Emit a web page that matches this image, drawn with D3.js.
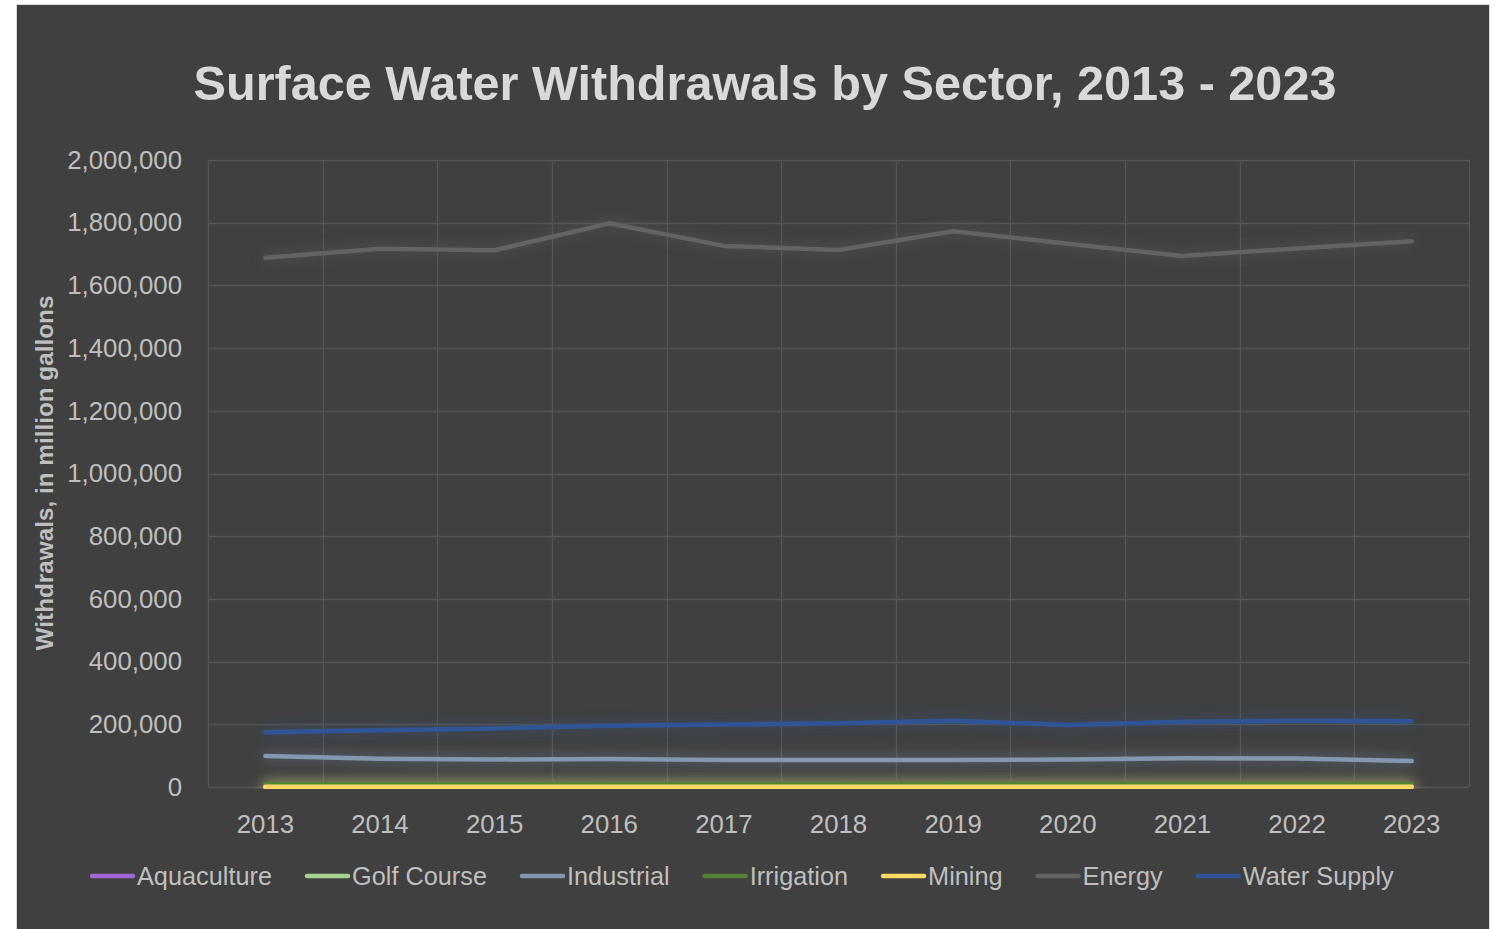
<!DOCTYPE html>
<html>
<head>
<meta charset="utf-8">
<script src="https://cdn.jsdelivr.net/npm/d3@7"></script>
<style>
  html, body { margin: 0; padding: 0; background: #ffffff; }
  svg { display: block; }
</style>
</head>
<body>
<svg id="chart" width="1499" height="929"></svg>
<script>
const years = ["2013","2014","2015","2016","2017","2018","2019","2020","2021","2022","2023"];
const seriesNames = ["Aquaculture","Golf Course","Industrial","Irrigation","Mining","Energy","Water Supply"];
const aquaculture = [300, 300, 300, 300, 300, 300, 300, 300, 300, 300, 300];
const golfCourse  = [1500, 1500, 1500, 1500, 1500, 1500, 1500, 1500, 1500, 1500, 1500];
const industrial  = [99000, 90000, 88000, 89000, 86000, 86000, 86000, 88000, 92000, 91000, 83000];
const irrigation  = [8500, 9000, 9000, 9500, 9500, 9500, 10000, 10000, 10000, 10500, 10500];
const mining      = [500, 500, 500, 500, 500, 500, 500, 500, 500, 500, 500];
const energy      = [1688000, 1717000, 1712000, 1798000, 1726000, 1713000, 1773000, 1733000, 1694000, 1718000, 1741000];
const waterSupply = [175000, 181000, 187000, 195000, 199000, 203000, 211000, 198000, 208000, 211000, 210000];
const yTicks = [0, 200000, 400000, 600000, 800000, 1000000, 1200000, 1400000, 1600000, 1800000, 2000000];
const seriesColors = ["#a266d6", "#a9d18e", "#8497b0", "#548235", "#ffd966", "#636363", "#2f5597"];
const titleText = "Surface Water Withdrawals by Sector, 2013 - 2023";
const yTitleText = "Withdrawals, in million gallons";

const seriesValues = [aquaculture, golfCourse, industrial, irrigation, mining, energy, waterSupply];
const series = seriesNames.map((n, i) => ({ name: n, color: seriesColors[i], values: seriesValues[i] }));

const FONT = "'Liberation Sans', Arial, sans-serif";
const svg = d3.select("#chart");

// chart area
svg.append("rect").attr("x", 16.5).attr("y", 4.5).attr("width", 1473).attr("height", 930)
  .attr("fill", "#404040").attr("stroke", "#d9d9d9").attr("stroke-width", 1);

const plot = { left: 208, right: 1469, top: 160, bottom: 787 };
const x = d3.scaleBand().domain(years).range([plot.left, plot.right]).padding(0);
const y = d3.scaleLinear().domain([0, 2000000]).range([plot.bottom, plot.top]);

const defs = svg.append("defs");
// soft glow (user space so flat lines are not clipped)
const f = defs.append("filter").attr("id", "glow").attr("filterUnits", "userSpaceOnUse")
  .attr("x", 150).attr("y", 100).attr("width", 1400).attr("height", 730);
f.append("feGaussianBlur").attr("in", "SourceGraphic").attr("stdDeviation", 7);
// clip at the bottom of the plot area
defs.append("clipPath").attr("id", "plotClip").append("rect")
  .attr("x", 17).attr("y", 5).attr("width", 1472).attr("height", plot.bottom + 2 - 5);

// gridlines
const grid = svg.append("g").attr("stroke", "#555555").attr("stroke-width", 1.3);
yTicks.forEach(t => {
  grid.append("line").attr("x1", plot.left).attr("x2", plot.right)
    .attr("y1", Math.round(y(t)) + 0.5).attr("y2", Math.round(y(t)) + 0.5);
});
const bounds = years.map(yr => x(yr)).concat([plot.right]);
bounds.forEach(b => {
  grid.append("line").attr("x1", Math.round(b) + 0.5).attr("x2", Math.round(b) + 0.5)
    .attr("y1", plot.top).attr("y2", plot.bottom);
});

// y axis labels
const yAxis = d3.axisLeft(y).tickValues(yTicks).tickSize(0).tickPadding(26).tickFormat(d3.format(","));
const gy = svg.append("g").attr("transform", `translate(${plot.left},0)`).call(yAxis);
gy.select(".domain").remove();
gy.selectAll("text").attr("fill", "#bfbfbf").attr("font-size", 25.8).attr("font-family", FONT);

// x axis labels
const xAxis = d3.axisBottom(x).tickSize(0).tickPadding(28);
const gx = svg.append("g").attr("transform", `translate(0,${plot.bottom})`).call(xAxis);
gx.select(".domain").remove();
gx.selectAll("text").attr("fill", "#bfbfbf").attr("font-size", 25.8).attr("font-family", FONT);

// lines: glow layer first, then crisp lines
const line = d3.line().x((d, i) => x(years[i]) + x.bandwidth() / 2).y(d => y(d));
const glowLayer = svg.append("g").attr("clip-path", "url(#plotClip)");
const lineLayer = svg.append("g").attr("clip-path", "url(#plotClip)");
series.forEach(s => {
  glowLayer.append("path").datum(s.values).attr("d", line)
    .attr("fill", "none").attr("stroke", s.color).attr("stroke-width", 5)
    .attr("stroke-opacity", 0.6).attr("stroke-linecap", "round")
    .attr("filter", "url(#glow)");
});
series.forEach(s => {
  lineLayer.append("path").datum(s.values).attr("d", line)
    .attr("fill", "none").attr("stroke", s.color).attr("stroke-width", 4.5)
    .attr("stroke-linecap", "round").attr("stroke-linejoin", "round");
});

// title
svg.append("text").attr("x", 765).attr("y", 100).attr("text-anchor", "middle")
  .attr("fill", "#d9d9d9").attr("font-size", 48.6).attr("font-weight", "bold").attr("font-family", FONT)
  .text(titleText);

// y title
svg.append("text").attr("transform", "translate(53,473) rotate(-90)").attr("text-anchor", "middle")
  .attr("fill", "#bfbfbf").attr("font-size", 24.3).attr("font-weight", "bold").attr("font-family", FONT)
  .text(yTitleText);

// legend
const leg = svg.append("g").attr("transform", "translate(91,876)");
let cx = 0;
series.forEach(s => {
  const g = leg.append("g").attr("transform", `translate(${cx},0)`);
  g.append("line").attr("x1", 1).attr("x2", 42).attr("y1", 0).attr("y2", 0)
    .attr("stroke", s.color).attr("stroke-width", 4.5).attr("stroke-linecap", "round");
  const t = g.append("text").attr("x", 46).attr("y", 9).attr("fill", "#bfbfbf")
    .attr("font-size", 25.3).attr("font-family", FONT).text(s.name);
  cx += 46 + t.node().getComputedTextLength() + 34;
});
</script>
</body>
</html>
